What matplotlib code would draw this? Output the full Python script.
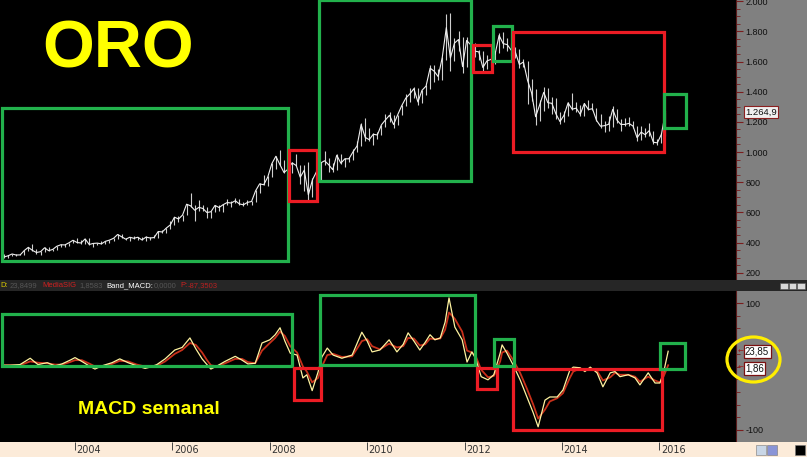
import matplotlib
matplotlib.use('Agg')
import matplotlib.pyplot as plt
from matplotlib.patches import Rectangle, Ellipse
from matplotlib.ticker import FixedLocator, MultipleLocator
import numpy as np

# ---------------- data ----------------
price_start_year = 2002.5          # July 2002 (monthly bars)
price_close = [304, 312, 324, 317, 318, 347,
               368, 348, 334, 339, 365, 346, 354, 375, 385, 384, 398, 415,
               400, 397, 424, 387, 394, 396, 391, 408, 416, 428, 453, 438,
               422, 435, 428, 435, 417, 436, 430, 433, 473, 470, 496, 517,
               568, 556, 582, 654, 643, 614, 633, 626, 599, 604, 646, 632,
               651, 665, 662, 677, 656, 650, 666, 672, 743, 789, 783, 834,
               923, 972, 916, 864, 887, 928, 911, 833, 880, 716, 815, 869,
               927, 942, 916, 883, 979, 926, 955, 955, 1001, 1040, 1182, 1097,
               1082, 1118, 1113, 1180, 1213, 1244, 1182, 1246, 1307, 1357, 1385, 1420,
               1332, 1409, 1437, 1556, 1536, 1500, 1628, 1825, 1623, 1722, 1746, 1566,
               1740, 1711, 1669, 1664, 1560, 1604, 1614, 1648, 1773, 1719, 1712, 1675,
               1663, 1580, 1597, 1476, 1393, 1234, 1313, 1396, 1327, 1323, 1253, 1202,
               1244, 1326, 1284, 1291, 1250, 1322, 1282, 1287, 1210, 1171, 1175, 1184,
               1283, 1213, 1183, 1183, 1190, 1172, 1095, 1132, 1115, 1142, 1065, 1061,
               1118, 1265]
price_high = [327, 316, 327, 325, 324, 349,
              372, 389, 356, 341, 372, 368, 359, 377, 391, 393, 400, 417,
              428, 416, 426, 428, 395, 400, 410, 410, 416, 431, 456, 457,
              429, 437, 445, 438, 435, 443, 436, 447, 474, 480, 499, 540,
              572, 573, 584, 654, 730, 651, 681, 651, 633, 609, 649, 649,
              653, 690, 672, 693, 688, 668, 685, 675, 746, 795, 845, 838,
              929, 976, 1011, 948, 935, 935, 988, 915, 912, 935, 825, 883,
              935, 1006, 963, 924, 985, 989, 960, 965, 1022, 1070, 1195, 1227,
              1162, 1123, 1135, 1180, 1249, 1265, 1244, 1248, 1310, 1388, 1424, 1431,
              1423, 1411, 1447, 1576, 1577, 1552, 1632, 1912, 1921, 1756, 1802, 1765,
              1763, 1790, 1720, 1675, 1668, 1641, 1628, 1672, 1790, 1796, 1754, 1726,
              1694, 1683, 1617, 1605, 1487, 1417, 1348, 1434, 1424, 1362, 1361, 1267,
              1270, 1332, 1392, 1331, 1315, 1325, 1345, 1322, 1290, 1255, 1208, 1238,
              1307, 1286, 1220, 1224, 1232, 1205, 1175, 1170, 1157, 1191, 1142, 1088,
              1123, 1268]
price_low = [298, 300, 309, 312, 314, 316,
             344, 342, 326, 320, 338, 343, 343, 350, 372, 368, 379, 398,
             399, 393, 391, 384, 372, 383, 387, 388, 399, 412, 424, 432,
             418, 410, 424, 420, 414, 413, 417, 429, 432, 461, 465, 492,
             515, 539, 540, 582, 636, 543, 607, 610, 561, 561, 604, 609,
             602, 648, 636, 661, 652, 640, 649, 650, 670, 731, 779, 778,
             835, 886, 914, 864, 853, 862, 905, 786, 740, 681, 705, 750,
             810, 915, 867, 865, 879, 918, 904, 932, 949, 1000, 1038, 1075,
             1075, 1045, 1087, 1111, 1165, 1199, 1157, 1176, 1243, 1306, 1330, 1361,
             1309, 1325, 1380, 1417, 1462, 1478, 1478, 1612, 1535, 1603, 1672, 1523,
             1563, 1692, 1628, 1613, 1527, 1548, 1565, 1582, 1657, 1692, 1671, 1636,
             1626, 1555, 1566, 1321, 1339, 1180, 1207, 1272, 1292, 1251, 1221, 1186,
             1202, 1238, 1277, 1268, 1240, 1240, 1281, 1280, 1206, 1160, 1131, 1142,
             1167, 1191, 1142, 1175, 1170, 1162, 1072, 1077, 1098, 1108, 1053, 1046,
             1062, 1107]
last_price = 1264.9

macd_years = [2002.50, 2002.67, 2002.87, 2003.08, 2003.24, 2003.43, 2003.59, 2003.73, 2003.90, 2004.00,
              2004.14, 2004.31, 2004.41, 2004.55, 2004.76, 2004.92, 2005.09, 2005.27, 2005.44, 2005.54,
              2005.68, 2005.85, 2006.05, 2006.20, 2006.36, 2006.48, 2006.61, 2006.71, 2006.79, 2006.92,
              2007.08, 2007.29, 2007.43, 2007.55, 2007.70, 2007.84, 2008.00, 2008.11, 2008.21, 2008.31,
              2008.42, 2008.56, 2008.68, 2008.76, 2008.87, 2008.99, 2009.07, 2009.18, 2009.30, 2009.48,
              2009.69, 2009.89, 2010.00, 2010.10, 2010.26, 2010.45, 2010.61, 2010.74, 2010.84, 2010.96,
              2011.08, 2011.19, 2011.29, 2011.39, 2011.50, 2011.60, 2011.68, 2011.80, 2011.95, 2012.05,
              2012.15, 2012.23, 2012.34, 2012.48, 2012.60, 2012.73, 2012.77, 2012.87, 2013.00, 2013.14,
              2013.28, 2013.41, 2013.51, 2013.65, 2013.75, 2013.90, 2014.02, 2014.16, 2014.23, 2014.37,
              2014.47, 2014.58, 2014.72, 2014.84, 2014.99, 2015.09, 2015.19, 2015.36, 2015.50, 2015.60,
              2015.77, 2015.91, 2016.01, 2016.09, 2016.18]
macd_line = [2, 2, 3, 13, 3, 6, 1, 4, 10, 14,
             8, 0, -4, 1, 6, 12, 6, 1, -3, -1,
             3, 12, 26, 30, 45, 28, 12, 3, -4, 1,
             8, 16, 10, 4, 5, 37, 42, 50, 61, 40,
             21, 18, -18, -13, -38, -9, 15, 29, 18, 13,
             18, 54, 40, 23, 26, 42, 23, 35, 53, 40,
             26, 38, 50, 42, 45, 70, 108, 62, 42, 7,
             23, 12, -16, -21, -13, 21, 34, 21, 2, -21,
             -48, -73, -95, -53, -48, -48, -37, -6, -1, -2,
             -8, -1, -10, -32, -10, -8, -16, -13, -18, -29,
             -10, -26, -26, -8, 24]
macd_signal = [2, 2, 2, 8, 6, 5, 3, 3, 7, 10,
               10, 4, 0, 0, 4, 9, 8, 3, 0, -1,
               1, 8, 20, 26, 37, 34, 22, 10, 2, 0,
               5, 12, 12, 7, 5, 25, 37, 45, 55, 48,
               32, 22, 0, -8, -25, -18, 0, 18, 20, 15,
               16, 40, 43, 32, 27, 36, 30, 32, 45, 44,
               33, 35, 44, 43, 44, 58, 85, 75, 55, 25,
               22, 16, -5, -17, -15, 8, 22, 25, 10, -10,
               -35, -60, -82, -68, -55, -50, -42, -18, -8, -3,
               -5, -3, -7, -22, -17, -10, -13, -13, -16, -24,
               -16, -22, -25, -15, 2]
macd_last_label = 23.85
signal_last_label = 1.86

price_ticks = [200, 400, 600, 800, 1000, 1200, 1400, 1600, 1800, 2000]
price_tick_labels = ['200', '400', '600', '800', '1.000', '1.200', '1.400', '1.600', '1.800', '2.000']
macd_ticks = [-100, 100]
macd_tick_labels = ['-100', '100']
year_ticks = [2004, 2006, 2008, 2010, 2012, 2014, 2016]

# annotation boxes: (x0, x1, y0, y1, colour)
price_boxes = [(2002.50, 2008.37, 276, 1292, 'g'),
               (2008.39, 2008.97, 674, 1013, 'r'),
               (2009.01, 2012.13, 807, 2005, 'g'),
               (2012.17, 2012.57, 1531, 1712, 'r'),
               (2012.58, 2012.97, 1604, 1836, 'g'),
               (2012.99, 2016.09, 999, 1796, 'r'),
               (2016.09, 2016.55, 1159, 1384, 'g')]
macd_boxes = [(2002.50, 2008.46, 0.8, 82.7, 'g'),
              (2008.50, 2009.05, -52.8, -2.4, 'r'),
              (2009.03, 2012.21, 2.4, 112.6, 'g'),
              (2012.25, 2012.67, -35.4, -2.4, 'r'),
              (2012.60, 2013.02, 0.8, 43.3, 'g'),
              (2012.99, 2016.05, -100, -3.9, 'r'),
              (2016.01, 2016.53, -3.9, 37, 'g')]

# ---------------- layout ----------------
W, H = 807, 457
fig = plt.figure(figsize=(W / 100, H / 100), dpi=100)
fig.patch.set_facecolor('black')


def fr(x0, y0, x1, y1):
    return [x0 / W, 1 - y1 / H, (x1 - x0) / W, (y1 - y0) / H]


PX_PER_YEAR = 48.7
X0_YEAR = 2002.46
xlim = (X0_YEAR, X0_YEAR + 736 / PX_PER_YEAR)
GREEN = '#22b14c'
RED = '#ec1c24'
TICKC = '#7a1e1e'
GRAY = '#808080'

# gray scale strips on the right
for (a, b, c, d) in [(736, 0, 807, 280), (736, 291, 807, 442)]:
    fig.add_artist(Rectangle((a / W, 1 - d / H), (c - a) / W, (d - b) / H,
                             transform=fig.transFigure, facecolor=GRAY,
                             edgecolor='none', zorder=-5))

label_font = dict(family='Liberation Sans', size=6.5)

# ---------------- price panel ----------------
ax1 = fig.add_axes(fr(0, 0, 736, 280))
ax1.set_facecolor('black')
ax1.set_xlim(*xlim)
ax1.set_ylim(151.5, 2008)
t = price_start_year + (np.arange(len(price_close)) + 0.5) / 12
ax1.vlines(t, price_low, price_high, color='#cfcfcf', lw=0.8)
ax1.plot(t, price_close, color='#f0f0f0', lw=0.8)
for x0, x1, y0, y1, c in price_boxes:
    ax1.add_patch(Rectangle((x0, y0), x1 - x0, y1 - y0, fill=False,
                            edgecolor=GREEN if c == 'g' else RED, lw=2.3, zorder=5))
ax1.set_xticks([])
ax1.yaxis.tick_right()
ax1.yaxis.set_major_locator(FixedLocator(price_ticks))
ax1.set_yticklabels(price_tick_labels, fontdict=label_font, color='#111111')
ax1.yaxis.set_minor_locator(MultipleLocator(50))
ax1.tick_params(axis='y', which='major', direction='out', length=5, width=0.8,
                color=TICKC, pad=2)
ax1.tick_params(axis='y', which='minor', direction='out', length=3, width=0.6, color=TICKC)
for s in ['top', 'left', 'bottom']:
    ax1.spines[s].set_visible(False)
ax1.spines['right'].set_color('#5a1a1a')
ax1.spines['right'].set_linewidth(0.8)
ax1.annotate('1.264,9', xy=(1, last_price), xycoords=('axes fraction', 'data'),
             xytext=(6.5, 0), textcoords='offset points', ha='left', va='center',
             fontsize=6.8, family='Liberation Sans', color='#111111',
             bbox=dict(boxstyle='square,pad=0.15', fc='#f0f0f0', ec='#8b2020', lw=0.8),
             annotation_clip=False)

# ---------------- header bar ----------------
axh = fig.add_axes(fr(0, 280, 807, 291))
axh.set_facecolor('#262626')
axh.set_xticks([]); axh.set_yticks([])
for s in axh.spines.values():
    s.set_visible(False)
header_parts = [(0, 'D:', '#d8c800'), (10, '23,8499', '#555555'),
                (42, 'MediaSIG', '#d02020'), (79, '1,8583', '#555555'),
                (106, 'Band_MACD:', '#ffffff'), (154, '0,0000', '#555555'),
                (180, 'P:', '#d02020'), (188, '-87,3503', '#b82020')]
for x, s, c in header_parts:
    fig.text(x / W, 1 - 285.8 / H, s, color=c, fontsize=5.5, family='Liberation Sans',
             va='center', ha='left')
for bx in [780, 788.5, 797]:
    fig.add_artist(Rectangle((bx / W, 1 - 289 / H), 7.5 / W, 6.5 / H,
                             transform=fig.transFigure, facecolor='#d8d8d8',
                             edgecolor='#555555', lw=0.4))

# ---------------- MACD panel ----------------
ax2 = fig.add_axes(fr(0, 291, 736, 442))
ax2.set_facecolor('black')
ax2.set_xlim(*xlim)
ax2.set_ylim(-118.9, 118.9)
ax2.plot(macd_years, macd_signal, color='#c8301a', lw=1.3, zorder=2)
ax2.plot(macd_years, macd_line, color='#fff3a0', lw=0.9, zorder=3)
for x0, x1, y0, y1, c in macd_boxes:
    ax2.add_patch(Rectangle((x0, y0), x1 - x0, y1 - y0, fill=False,
                            edgecolor=GREEN if c == 'g' else RED, lw=2.3, zorder=5))
ax2.set_xticks([])
ax2.yaxis.tick_right()
ax2.yaxis.set_major_locator(FixedLocator(macd_ticks))
ax2.set_yticklabels(macd_tick_labels, fontdict=label_font, color='#111111')
ax2.yaxis.set_minor_locator(MultipleLocator(20))
ax2.tick_params(axis='y', which='major', direction='out', length=5, width=0.8,
                color=TICKC, pad=2)
ax2.tick_params(axis='y', which='minor', direction='out', length=3, width=0.6, color=TICKC)
for s in ['top', 'left', 'bottom']:
    ax2.spines[s].set_visible(False)
ax2.spines['right'].set_color('#5a1a1a')
ax2.spines['right'].set_linewidth(0.8)
for val, txt in [(macd_last_label, '23,85'), (signal_last_label, '1,86')]:
    ax2.annotate(txt, xy=(1, val), xycoords=('axes fraction', 'data'),
                 xytext=(6.5, -2.0 if val < 10 else 0), textcoords='offset points',
                 ha='left', va='center', fontsize=7, family='Liberation Sans',
                 color='#111111',
                 bbox=dict(boxstyle='square,pad=0.15', fc='white', ec='#7a1010', lw=0.9),
                 annotation_clip=False)
    ax2.annotate('\u2190', xy=(1, val), xycoords=('axes fraction', 'data'),
                 xytext=(1, -2.0 if val < 10 else 0), textcoords='offset points',
                 ha='left', va='center', fontsize=5, color='#a01818',
                 annotation_clip=False)

# yellow highlight circle
fig.add_artist(Ellipse((753.5 / W, 1 - 359.5 / H), 53 / W, 45 / H,
                       transform=fig.transFigure, fill=False,
                       edgecolor='#ffee00', lw=2.3, zorder=10))

# ---------------- bottom date strip ----------------
axb = fig.add_axes(fr(0, 442, 807, 457))
axb.set_facecolor('#fcebd9')
axb.set_xlim(X0_YEAR, X0_YEAR + 807 / PX_PER_YEAR)
axb.set_ylim(0, 1)
axb.set_yticks([])
axb.set_xticks(year_ticks)
axb.xaxis.set_ticks_position('top')
axb.tick_params(axis='x', direction='in', length=6, width=0.7, color='#444444',
                labeltop=False, labelbottom=False)
for s in axb.spines.values():
    s.set_visible(False)
for yr in year_ticks:
    axb.text(yr + 0.03, 0.45, str(yr), fontsize=7,
             family=['Liberation Sans Narrow', 'DejaVu Sans'],
             color='#333333', ha='left', va='center')
# small toolbar icons at bottom right
for (ix, fc) in [(756, '#c9d6e6'), (767, '#8a94d6'), (795, '#000000')]:
    fig.add_artist(Rectangle((ix / W, 1 - 455 / H), 10 / W, 10 / H,
                             transform=fig.transFigure, facecolor=fc,
                             edgecolor='#777777', lw=0.4, zorder=6))

# ---------------- titles ----------------
fig.text(42 / W, 1 - 68 / H, 'ORO', color='#ffff00', fontsize=48, fontweight='bold',
         family='Liberation Sans', va='baseline', ha='left')
fig.text(78 / W, 1 - 414 / H, 'MACD semanal', color='#ffff00', fontsize=14,
         fontweight='bold', family='Liberation Sans', va='baseline', ha='left')

fig.savefig('out.png', dpi=100, facecolor=fig.get_facecolor())
